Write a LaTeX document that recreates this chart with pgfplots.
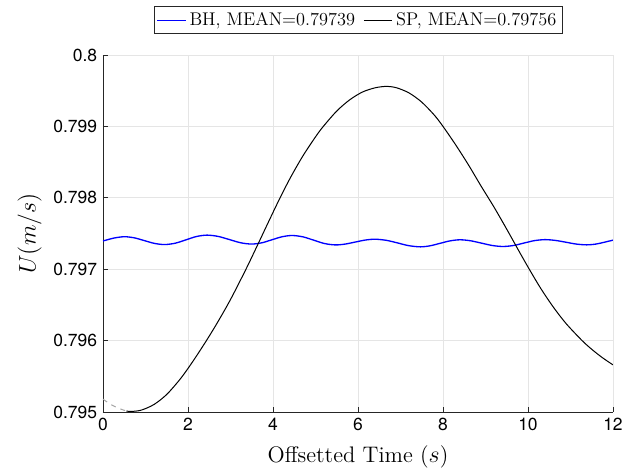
\documentclass[border=0pt]{standalone}
\usepackage{fontspec}
\usepackage{pgfplots}
\pgfplotsset{compat=1.18}
\newfontfamily\helv{TeX Gyre Heros}
\definecolor{axgray}{gray}{0.15}
\definecolor{gridgray}{gray}{0.9}
\begin{document}
\begin{tikzpicture}
\begin{axis}[
 scale only axis, width=306pt, height=214.2pt,
 xmin=0, xmax=12, ymin=0.795, ymax=0.8,
 axis x line*=bottom, axis y line*=left,
 axis line style={axgray, line width=0.5pt},
 xtick={0,2,4,6,8,10,12},
 ytick={0.795,0.796,0.797,0.798,0.799,0.8},
 yticklabels={0.795,0.796,0.797,0.798,0.799,0.8},
 scaled y ticks=false,
 tick align=inside, major tick length=3pt,
 tick style={axgray, line width=0.5pt},
 grid=major, major grid style={gridgray, line width=0.4pt},
 tick label style={font=\helv\fontsize{10.5}{12}\selectfont, text=black},
 /pgf/number format/assume math mode=true,
 xlabel={Offsetted Time ($s$)}, ylabel={$U(m/s)$},
 label style={font=\fontsize{13.5}{15}\selectfont},
 xlabel style={at={(axis description cs:0.5,-0.126)}, anchor=center},
 ylabel style={at={(axis description cs:-0.144,0.5)}, anchor=center},
 legend style={at={(0.5,1)}, anchor=south, yshift=12.5pt, legend columns=2,
   draw=axgray, font=\fontsize{11}{13}\selectfont, inner sep=1.5pt,
   /tikz/every even column/.append style={column sep=3pt}},
]
\addplot[gray!70, dashed, line width=0.6pt, smooth, forget plot] coordinates {
(0,0.79518) (0.2,0.79510) (0.4,0.795045) (0.55,0.795013)};
\addplot[blue, line width=0.8pt, smooth] coordinates {
(0,0.797395) (0.25,0.797435) (0.5,0.797455)
(0.7375,0.797439) (0.975,0.797400) (1.2125,0.797361) (1.45,0.797345)
(1.7,0.797364) (1.95,0.797411) (2.2,0.797458) (2.45,0.797477)
(2.71,0.797459) (2.975,0.797415) (3.24,0.797370) (3.5,0.797352)
(3.74,0.797370) (3.975,0.797412) (4.21,0.797454) (4.45,0.797472)
(4.705,0.797453) (4.96,0.797406) (5.215,0.797359) (5.47,0.797340)
(5.70,0.797352) (5.935,0.797380) (6.17,0.797408) (6.4,0.797420)
(6.67,0.797404) (6.935,0.797367) (7.2,0.797329) (7.47,0.797313)
(7.70,0.797328) (7.935,0.797363) (8.17,0.797397) (8.4,0.797412)
(8.65,0.797398) (8.905,0.797365) (9.16,0.797332) (9.41,0.797318)
(9.66,0.797332) (9.905,0.797366) (10.15,0.797400) (10.4,0.797414)
(10.645,0.797403) (10.89,0.797378) (11.135,0.797352) (11.38,0.797341)
(11.6,0.797352) (11.8,0.797378) (12,0.797407)};
\addlegendentry{BH, MEAN=0.79739}
\addplot[black, line width=0.6pt, smooth] coordinates {
(0.55,0.795013) (0.67,0.795008) (0.9,0.795026) (1.2,0.795105) (1.5,0.795246) (1.8,0.795449)
(2.0,0.795610) (2.2,0.795785) (2.46,0.796025) (2.7,0.796260) (3.0,0.796575) (3.36,0.796995)
(3.63,0.797330) (3.9,0.797670) (4.13,0.797955) (4.4,0.798271) (4.7,0.798583) (5.0,0.798853)
(5.18,0.798997) (5.5,0.799215) (5.8,0.799370) (6.1,0.799480) (6.4,0.799540) (6.66,0.799560)
(6.9,0.799542) (7.2,0.799469) (7.5,0.799340) (7.8,0.799155) (8.0,0.799000) (8.3,0.798740)
(8.6,0.798460) (8.9,0.798160) (9.2,0.797870) (9.5,0.797560) (9.8,0.797240) (10.03,0.797000)
(10.3,0.796731) (10.6,0.796466) (10.9,0.796236) (11.27,0.796002) (11.5,0.795878) (11.75,0.795761)
(12.0,0.795660)};
\addlegendentry{SP, MEAN=0.79756}
\end{axis}
\pgfresetboundingbox
\path ([shift={(-61.8pt,-35.4pt)}]current axis.south west) rectangle ([shift={(10.2pt,33pt)}]current axis.north east);
\end{tikzpicture}
\end{document}
